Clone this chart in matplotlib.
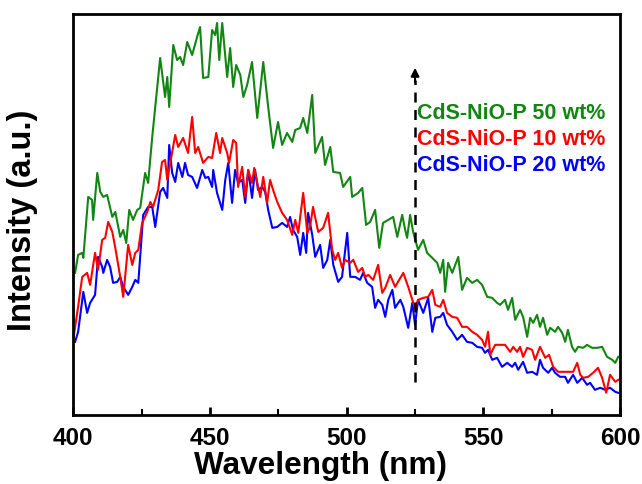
import matplotlib
matplotlib.use("Agg")
import matplotlib.pyplot as plt
from matplotlib.ticker import MultipleLocator

plt.rcParams['font.family'] = ['Liberation Sans', 'DejaVu Sans']
plt.rcParams['font.weight'] = 'bold'

# CdS-NiO-P 50 wt%
wl_50 = [400.7, 401.8, 403.3, 403.7, 405.5, 406.9, 407.3, 408.8, 409.9, 411.0, 412.4, 414.3, 415.4, 417.2,
         418.3, 419.4, 420.5, 421.9, 423.4, 424.5, 426.3, 427.4, 428.9, 430.0, 431.8, 433.6, 434.4, 435.1,
         436.6, 438.0, 439.1, 440.2, 441.7, 443.5, 445.3, 446.4, 447.5, 449.4, 450.8, 451.9, 452.6, 453.4,
         454.5, 456.3, 457.4, 458.5, 459.6, 461.1, 462.2, 463.6, 465.4, 467.3, 469.5, 471.3, 473.1, 474.9,
         476.4, 478.2, 480.1, 481.2, 483.0, 484.1, 485.6, 487.4, 488.5, 491.0, 492.1, 494.0, 495.1, 497.6,
         498.7, 501.3, 502.0, 504.2, 505.7, 507.1, 508.6, 510.4, 511.9, 513.3, 515.2, 517.0, 518.5, 520.3,
         521.4, 522.1, 523.2, 524.3, 526.1, 528.0, 529.4, 531.3, 533.1, 534.2, 535.3, 536.0, 537.1, 538.6,
         539.7, 540.8, 542.2, 544.0, 545.9, 547.7, 549.5, 551.4, 553.2, 555.0, 556.1, 557.9, 559.0, 560.5,
         561.6, 563.4, 564.5, 566.0, 567.1, 568.2, 569.6, 570.7, 571.8, 573.3, 574.4, 576.2, 577.3, 578.8,
         579.9, 580.9, 582.4, 583.5, 584.6, 586.5, 587.9, 589.7, 591.6, 593.4, 595.2, 597.1, 598.2, 599.3]
int_50 = [142, 160, 162, 157, 218, 215, 195, 242, 223, 218, 220, 198, 203, 178,
          185, 172, 205, 195, 205, 207, 242, 232, 278, 308, 357, 318, 338, 308,
          370, 355, 358, 350, 373, 360, 378, 388, 337, 338, 385, 380, 392, 355,
          392, 338, 367, 328, 350, 340, 318, 330, 353, 297, 353, 308, 267, 293,
          270, 282, 273, 285, 287, 297, 282, 320, 262, 278, 250, 268, 243, 242,
          228, 238, 218, 222, 227, 190, 193, 205, 167, 192, 195, 198, 178, 200,
          185, 177, 200, 183, 165, 175, 162, 157, 152, 142, 155, 123, 152, 142,
          150, 158, 125, 137, 132, 135, 130, 118, 117, 112, 110, 115, 105, 117,
          95, 105, 98, 78, 97, 92, 100, 88, 97, 80, 87, 83, 88, 82,
          73, 85, 68, 63, 68, 67, 70, 67, 67, 68, 58, 55, 52, 58]

# CdS-NiO-P 10 wt%
wl_10 = [400.0, 401.8, 403.3, 405.1, 406.2, 408.0, 409.1, 410.6, 411.7, 412.8, 414.3, 415.4, 417.2, 418.3,
         419.0, 420.1, 421.6, 422.7, 423.8, 425.2, 427.1, 428.2, 429.2, 431.1, 432.5, 433.6, 434.4, 435.5,
         437.3, 438.4, 440.2, 442.0, 443.5, 444.6, 445.7, 447.5, 449.4, 450.8, 452.3, 453.7, 454.5, 456.3,
         457.0, 458.5, 459.6, 460.3, 461.8, 462.9, 464.0, 465.4, 466.2, 467.3, 468.4, 469.5, 470.9, 472.0,
         473.1, 474.6, 476.4, 478.2, 480.1, 481.2, 482.3, 484.1, 485.6, 486.6, 487.7, 489.6, 491.4, 493.2,
         494.7, 495.8, 496.9, 498.3, 499.4, 501.3, 502.4, 504.2, 505.7, 506.8, 507.9, 509.7, 511.5, 513.0,
         514.1, 515.9, 517.7, 519.6, 520.7, 522.5, 524.0, 525.0, 526.1, 528.0, 529.8, 531.3, 532.4, 534.2,
         535.3, 536.7, 538.6, 540.4, 542.2, 544.0, 545.9, 547.7, 549.5, 550.6, 551.7, 552.5, 554.3, 556.1,
         557.9, 559.8, 560.9, 562.3, 563.4, 564.5, 566.0, 567.8, 568.9, 570.7, 572.6, 574.0, 575.5, 577.3,
         579.1, 580.9, 582.8, 584.3, 585.4, 586.5, 588.3, 590.1, 591.9, 593.4, 594.9, 596.3, 598.2, 599.3]
int_10 = [75, 108, 138, 142, 130, 162, 145, 175, 177, 193, 183, 167, 138, 118,
          138, 170, 150, 162, 165, 192, 203, 213, 208, 225, 253, 255, 235, 252,
          280, 268, 277, 262, 298, 262, 268, 252, 258, 257, 282, 262, 277, 262,
          252, 275, 272, 228, 248, 218, 245, 232, 247, 232, 218, 238, 212, 235,
          225, 213, 202, 195, 180, 195, 182, 222, 182, 188, 208, 183, 187, 202,
          165, 155, 162, 147, 155, 152, 155, 143, 147, 138, 140, 135, 150, 122,
          127, 140, 128, 137, 142, 128, 115, 107, 115, 117, 118, 125, 110, 108,
          115, 102, 98, 97, 88, 88, 83, 80, 75, 68, 83, 60, 70, 70,
          70, 63, 68, 63, 68, 58, 67, 65, 55, 68, 57, 60, 48, 43,
          43, 43, 43, 52, 40, 37, 38, 42, 47, 37, 22, 40, 33, 35]

# CdS-NiO-P 20 wt%
wl_20 = [400.7, 401.8, 403.7, 405.1, 406.2, 408.0, 409.1, 410.6, 411.0, 412.4, 413.5, 414.6, 416.1, 417.2,
         418.3, 420.1, 421.6, 422.7, 423.8, 425.6, 427.4, 428.9, 430.0, 431.8, 432.9, 434.4, 435.1, 436.2,
         437.3, 438.4, 439.9, 440.9, 442.0, 443.5, 445.3, 447.2, 448.3, 449.4, 450.8, 451.2, 452.6, 454.5,
         455.6, 456.7, 458.1, 459.2, 460.3, 461.8, 462.9, 464.0, 465.4, 466.5, 467.6, 469.1, 470.2, 471.3,
         472.8, 474.6, 476.4, 478.2, 479.3, 480.4, 481.9, 483.0, 484.1, 485.2, 485.9, 487.4, 488.5, 490.3,
         491.4, 492.9, 494.0, 495.1, 496.9, 498.3, 500.2, 501.3, 503.1, 504.9, 506.0, 507.5, 509.3, 510.4,
         511.5, 513.0, 514.1, 515.2, 516.7, 517.7, 519.6, 520.7, 522.5, 524.0, 525.0, 526.1, 528.0, 529.8,
         531.3, 532.4, 534.2, 535.3, 536.7, 538.6, 540.4, 542.2, 544.0, 545.9, 547.7, 549.5, 550.6, 551.7,
         553.2, 555.0, 556.8, 558.7, 560.5, 561.6, 562.7, 564.5, 566.0, 567.8, 569.6, 570.7, 571.8, 573.7,
         575.1, 576.2, 578.0, 579.9, 580.9, 582.8, 584.3, 586.1, 587.9, 589.0, 590.8, 592.7, 594.5, 596.3,
         598.2, 599.3]
int_20 = [73, 83, 123, 102, 112, 120, 158, 148, 142, 155, 148, 132, 133, 138,
          128, 120, 128, 135, 132, 200, 208, 208, 188, 223, 227, 217, 270, 242,
          233, 252, 238, 252, 240, 238, 227, 245, 237, 238, 228, 245, 222, 205,
          235, 252, 212, 245, 232, 235, 212, 245, 217, 245, 225, 228, 223, 205,
          187, 188, 192, 188, 198, 185, 178, 160, 182, 162, 202, 180, 158, 170,
          147, 155, 175, 150, 133, 138, 182, 138, 138, 135, 142, 132, 128, 107,
          115, 110, 98, 115, 125, 107, 115, 108, 87, 112, 90, 115, 102, 117,
          83, 97, 98, 102, 90, 83, 75, 80, 73, 72, 68, 67, 62, 65,
          55, 57, 48, 52, 48, 52, 45, 53, 42, 43, 40, 55, 47, 42,
          47, 42, 38, 38, 32, 40, 32, 37, 30, 32, 25, 27, 25, 27,
          23, 22]

labels = ['CdS-NiO-P 50 wt%', 'CdS-NiO-P 10 wt%', 'CdS-NiO-P 20 wt%']
colors = ['#138513', '#ff0000', '#0000ff']

fig = plt.figure(figsize=(6.42, 4.84), dpi=100)
ax = fig.add_axes([0.114, 0.143, 0.852, 0.828])

ax.plot(wl_20, int_20, color=colors[2], lw=1.5)
ax.plot(wl_10, int_10, color=colors[1], lw=1.5)
ax.plot(wl_50, int_50, color=colors[0], lw=1.5)

# dashed arrow
ax.plot([525, 525], [33, 335], color='black', lw=1.8, ls=(0, (4, 3)))
ax.annotate('', xy=(525, 350), xytext=(525, 330),
            arrowprops=dict(arrowstyle='-|>', color='black', lw=1.5, mutation_scale=12))

for i, (lab, c) in enumerate(zip(labels, colors)):
    ax.text(0.628, 0.752 - i * 0.065, lab, color=c, transform=ax.transAxes,
            fontsize=15.5, fontweight='bold', va='center', ha='left')

ax.set_xlim(400, 600)
ax.set_ylim(0, 401)
ax.xaxis.set_major_locator(MultipleLocator(50))
ax.xaxis.set_minor_locator(MultipleLocator(25))
ax.tick_params(axis='x', which='major', direction='in', length=6, width=2, labelsize=17.5, pad=9)
ax.tick_params(axis='x', which='minor', direction='in', length=4, width=1.5)
ax.set_yticks([])
for s in ax.spines.values():
    s.set_linewidth(2)
for t in ax.get_xticklabels():
    t.set_fontweight('bold')

ax.set_xlabel('Wavelength (nm)', fontsize=22.7, fontweight='bold')
ax.set_ylabel('Intensity (a.u.)', fontsize=23.5, fontweight='bold')
ax.xaxis.set_label_coords(0.453, -0.09)
ax.yaxis.set_label_coords(-0.064, 0.486)

plt.savefig('out.png', dpi=100)
plt.close()
